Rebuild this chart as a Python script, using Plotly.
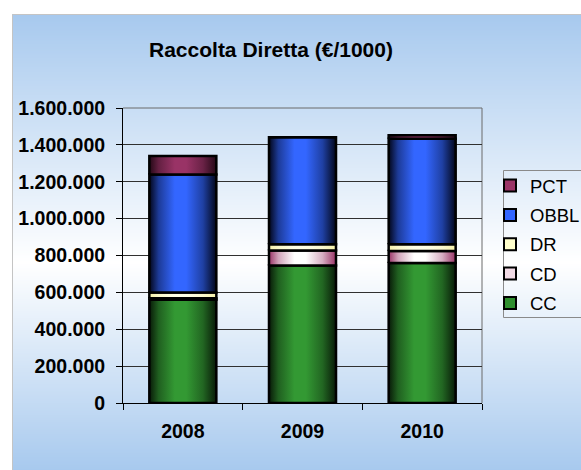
import base64, struct, zlib
import plotly.graph_objects as go

# ---- data ----
years = ["2008", "2009", "2010"]
series = ["CC", "CD", "DR", "OBBL", "PCT"]
CC = [560000, 746000, 759000]
CD = [8000, 81000, 66000]
DR = [32000, 34000, 36000]
OBBL = [640000, 580000, 572000]
PCT = [100000, 0, 19000]
y_ticks = [0, 200000, 400000, 600000, 800000, 1000000, 1200000, 1400000, 1600000]
y_ticktext = ["0", "200.000", "400.000", "600.000", "800.000", "1.000.000",
              "1.200.000", "1.400.000", "1.600.000"]
title_text = "Raccolta Diretta (€/1000)"

values = {"CC": CC, "CD": CD, "DR": DR, "OBBL": OBBL, "PCT": PCT}
# (edge colour, centre colour) of the cylinder shading
shade = {
    "CC": ("#081a08", "#339933"),
    "CD": ("#993366", "#ffffff"),
    "DR": ("#f5f0a8", "#ffffe6"),
    "OBBL": ("#02061a", "#3366ff"),
    "PCT": ("#240816", "#993366"),
}
legend_col = {"CC": "#2f8f2f", "CD": "#f2dbe6", "DR": "#ffffcc",
              "OBBL": "#3366ff", "PCT": "#993366"}

W, H = 581, 470
ML, MR, MT, MB = 123, 99, 108, 67
PW, PH = W - ML - MR, H - MT - MB


def px_x(x):
    return (x - ML) / PW


def px_y(y):
    return 1 - (y - MT) / PH


def hex2rgb(h):
    h = h.lstrip("#")
    return tuple(int(h[i:i + 2], 16) for i in (0, 2, 4))


def mix(a, b, t):
    ra, rb = hex2rgb(a), hex2rgb(b)
    return "rgb(%d,%d,%d)" % tuple(round(ra[i] + (rb[i] - ra[i]) * t) for i in range(3))


# ---- background gradient image ----
def gradient_png(top_px, bot_px, mid_px, blue, white=(255, 255, 255)):
    rows = []
    for y in range(top_px, bot_px):
        if y <= mid_px:
            t = (mid_px - y) / (mid_px - top_px)
        else:
            t = (y - mid_px) / (bot_px - mid_px)
        rows.append(tuple(round(white[i] + (blue[i] - white[i]) * t) for i in range(3)))
    w = 2
    raw = b"".join(b"\x00" + bytes(c) * w for c in rows)

    def chunk(tag, data):
        return (struct.pack(">I", len(data)) + tag + data +
                struct.pack(">I", zlib.crc32(tag + data) & 0xffffffff))
    png = b"\x89PNG\r\n\x1a\n"
    png += chunk(b"IHDR", struct.pack(">IIBBBBB", w, len(rows), 8, 2, 0, 0, 0))
    png += chunk(b"IDAT", zlib.compress(raw, 9))
    png += chunk(b"IEND", b"")
    return "data:image/png;base64," + base64.b64encode(png).decode()


bg_src = gradient_png(14, 470, 262, (167, 201, 238))

fig = go.Figure()

bar_w = 0.56
for s in series:
    edge, centre = shade[s]
    cs = [[0, edge], [0.14, mix(edge, centre, 0.55)], [0.38, centre],
          [0.55, centre], [0.8, mix(edge, centre, 0.6)], [1, edge]]
    for i, yr in enumerate(years):
        base = sum(values[p][i] for p in series[:series.index(s)])
        top = base + values[s][i]
        x0, x1 = i - bar_w / 2, i + bar_w / 2
        fig.add_trace(go.Scatter(
            x=[x0, x1, x1, x0, x0], y=[base, base, top, top, base],
            mode="lines", fill="toself",
            fillgradient=dict(type="horizontal", colorscale=cs),
            line=dict(color="black", width=2.5),
            showlegend=False, hoverinfo="skip",
        ))

# legend entries (top to bottom: PCT ... CC)
for s in reversed(series):
    fig.add_trace(go.Bar(
        x=[None], y=[None], name=s, xaxis="x2", legendgroup=s,
        marker=dict(color=legend_col[s], line=dict(color="black", width=2)),
    ))

fig.update_layout(
    width=W, height=H,
    margin=dict(l=ML, r=MR, t=MT, b=MB, autoexpand=False),
    paper_bgcolor="white",
    plot_bgcolor="rgba(0,0,0,0)",
    font=dict(family="Liberation Sans, Arial, sans-serif", color="black"),
    title=dict(text=title_text, x=px_x(271), xref="paper", xanchor="center",
               y=1 - 50 / H, yref="container", yanchor="middle",
               font=dict(size=21, weight="bold", color="black")),
    barmode="stack",
    showlegend=True,
    legend=dict(x=px_x(490), y=px_y(167), xanchor="left", yanchor="top",
                bgcolor="rgba(0,0,0,0)", borderwidth=0,
                traceorder="grouped", tracegroupgap=2.3,
                font=dict(size=18.5, color="black")),
    xaxis=dict(range=[-0.5, 2.5], tickvals=[0, 1, 2], ticktext=years,
               ticks="", showgrid=False, zeroline=False,
               showline=True, linecolor="black", linewidth=1,
               tickfont=dict(size=19.5, weight="bold"), ticklabelstandoff=11,
               fixedrange=True),
    xaxis2=dict(range=[-0.5, 2.5], overlaying="x", anchor="y", side="bottom",
                tickvals=[-0.5, 0.5, 1.5, 2.5], ticks="outside", ticklen=6,
                tickcolor="black", showticklabels=False, showgrid=False,
                zeroline=False, showline=False),
    yaxis=dict(range=[0, 1600000], tickvals=y_ticks, ticktext=y_ticktext,
               ticks="outside", ticklen=6, tickcolor="black",
               showgrid=True, gridcolor="#303030", gridwidth=1,
               zeroline=False, showline=True, linecolor="black", linewidth=1,
               tickfont=dict(size=19.5, weight="bold"), ticklabelstandoff=7),
    images=[dict(source=bg_src, xref="paper", yref="paper",
                 x=px_x(12), y=px_y(14), sizex=(W + 20 - 12) / PW,
                 sizey=(H - 14) / PH, xanchor="left", yanchor="top",
                 sizing="stretch", layer="below")],
    shapes=[
        dict(type="rect", xref="paper", yref="paper", x0=px_x(12.5), y0=px_y(H + 10),
             x1=px_x(W + 10), y1=px_y(14.5), line=dict(color="#c4c4c4", width=1),
             layer="below"),
        dict(type="line", xref="paper", yref="paper", x0=0, x1=1, y0=1, y1=1,
             line=dict(color="#6a6a6a", width=1), layer="below"),
        dict(type="line", xref="paper", yref="paper", x0=1, x1=1, y0=0, y1=1,
             line=dict(color="#6a6a6a", width=1), layer="below"),
        dict(type="rect", xref="paper", yref="paper", x0=px_x(503.5), y0=px_y(317.5),
             x1=px_x(W + 10), y1=px_y(170.5), line=dict(color="#8a8a8a", width=1),
             layer="below"),
    ],
)

fig.write_html("out.html")
